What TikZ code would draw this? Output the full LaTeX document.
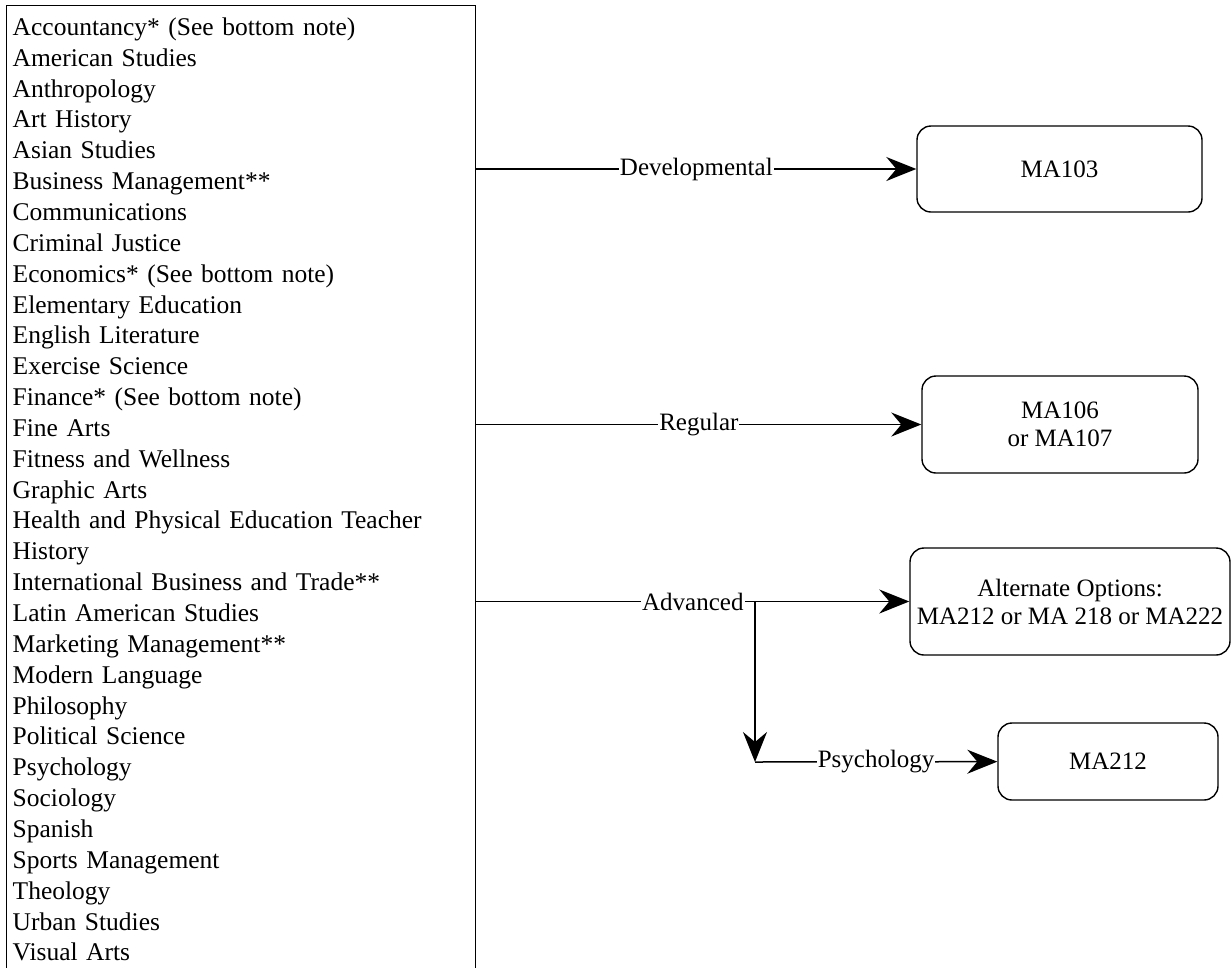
\documentclass[tikz,border=0pt]{standalone}
\usepackage{fontspec}
\setmainfont{Liberation Serif}
\usetikzlibrary{arrows.meta}

\begin{document}
\begin{tikzpicture}[
  x=1pt, y=-1pt,
  majorlist/.style={draw, line width=1.4pt, rectangle, anchor=north west, text width=457pt, align=left, inner xsep=6pt, inner ysep=12pt, font=\fontsize{25.5}{30.85}\selectfont},
  course/.style={draw, line width=1.4pt, rectangle, rounded corners=14pt, align=center, font=\fontsize{25}{28}\selectfont},
  lbl/.style={fill=white, inner sep=1pt, font=\fontsize{25}{28}\selectfont},
  >={Stealth[length=30pt, width=24pt, inset=10pt]}, line width=1.5pt
]
\useasboundingbox (0,0) rectangle (1232,967);

% List of majors
\node[majorlist] (majors) at (6,5) {Accountancy* (See bottom note)\\American Studies\\Anthropology\\Art History\\Asian Studies\\Business Management**\\Communications\\Criminal Justice\\Economics* (See bottom note)\\Elementary Education\\English Literature\\Exercise Science\\Finance* (See bottom note)\\Fine Arts\\Fitness and Wellness\\Graphic Arts\\Health and Physical Education Teacher\\History\\International Business and Trade**\\Latin American Studies\\Marketing Management**\\Modern Language\\Philosophy\\Political Science\\Psychology\\Sociology\\Spanish\\Sports Management\\Theology\\Urban Studies\\Visual Arts};

% Courses
\node[course, minimum width=285pt, minimum height=86pt] (ma103) at (1059.5,169) {MA103};
\node[course, minimum width=276pt, minimum height=97pt] (ma106) at (1060,424.5) {MA106\\or MA107};
\node[course, minimum width=320pt, minimum height=107pt] (alt) at (1070,601.5) {Alternate Options:\\MA212 or MA 218 or MA222};
\node[course, minimum width=220pt, minimum height=77pt] (ma212) at (1108,761.5) {MA212};

% Branch points
\coordinate (split) at (755,601.5);
\coordinate (bend) at (755,762);

% Connections
\draw[->] (majors.east |- ma103) -- node[lbl]{Developmental} (ma103);
\draw[->] (majors.east |- ma106) -- node[lbl]{Regular} (ma106);
\draw[->] (majors.east |- alt) -- node[lbl]{Advanced} (alt);
\draw[->] (split) -- (bend);
\draw[->] (bend) -- node[lbl]{Psychology} (ma212);

\end{tikzpicture}
\end{document}
